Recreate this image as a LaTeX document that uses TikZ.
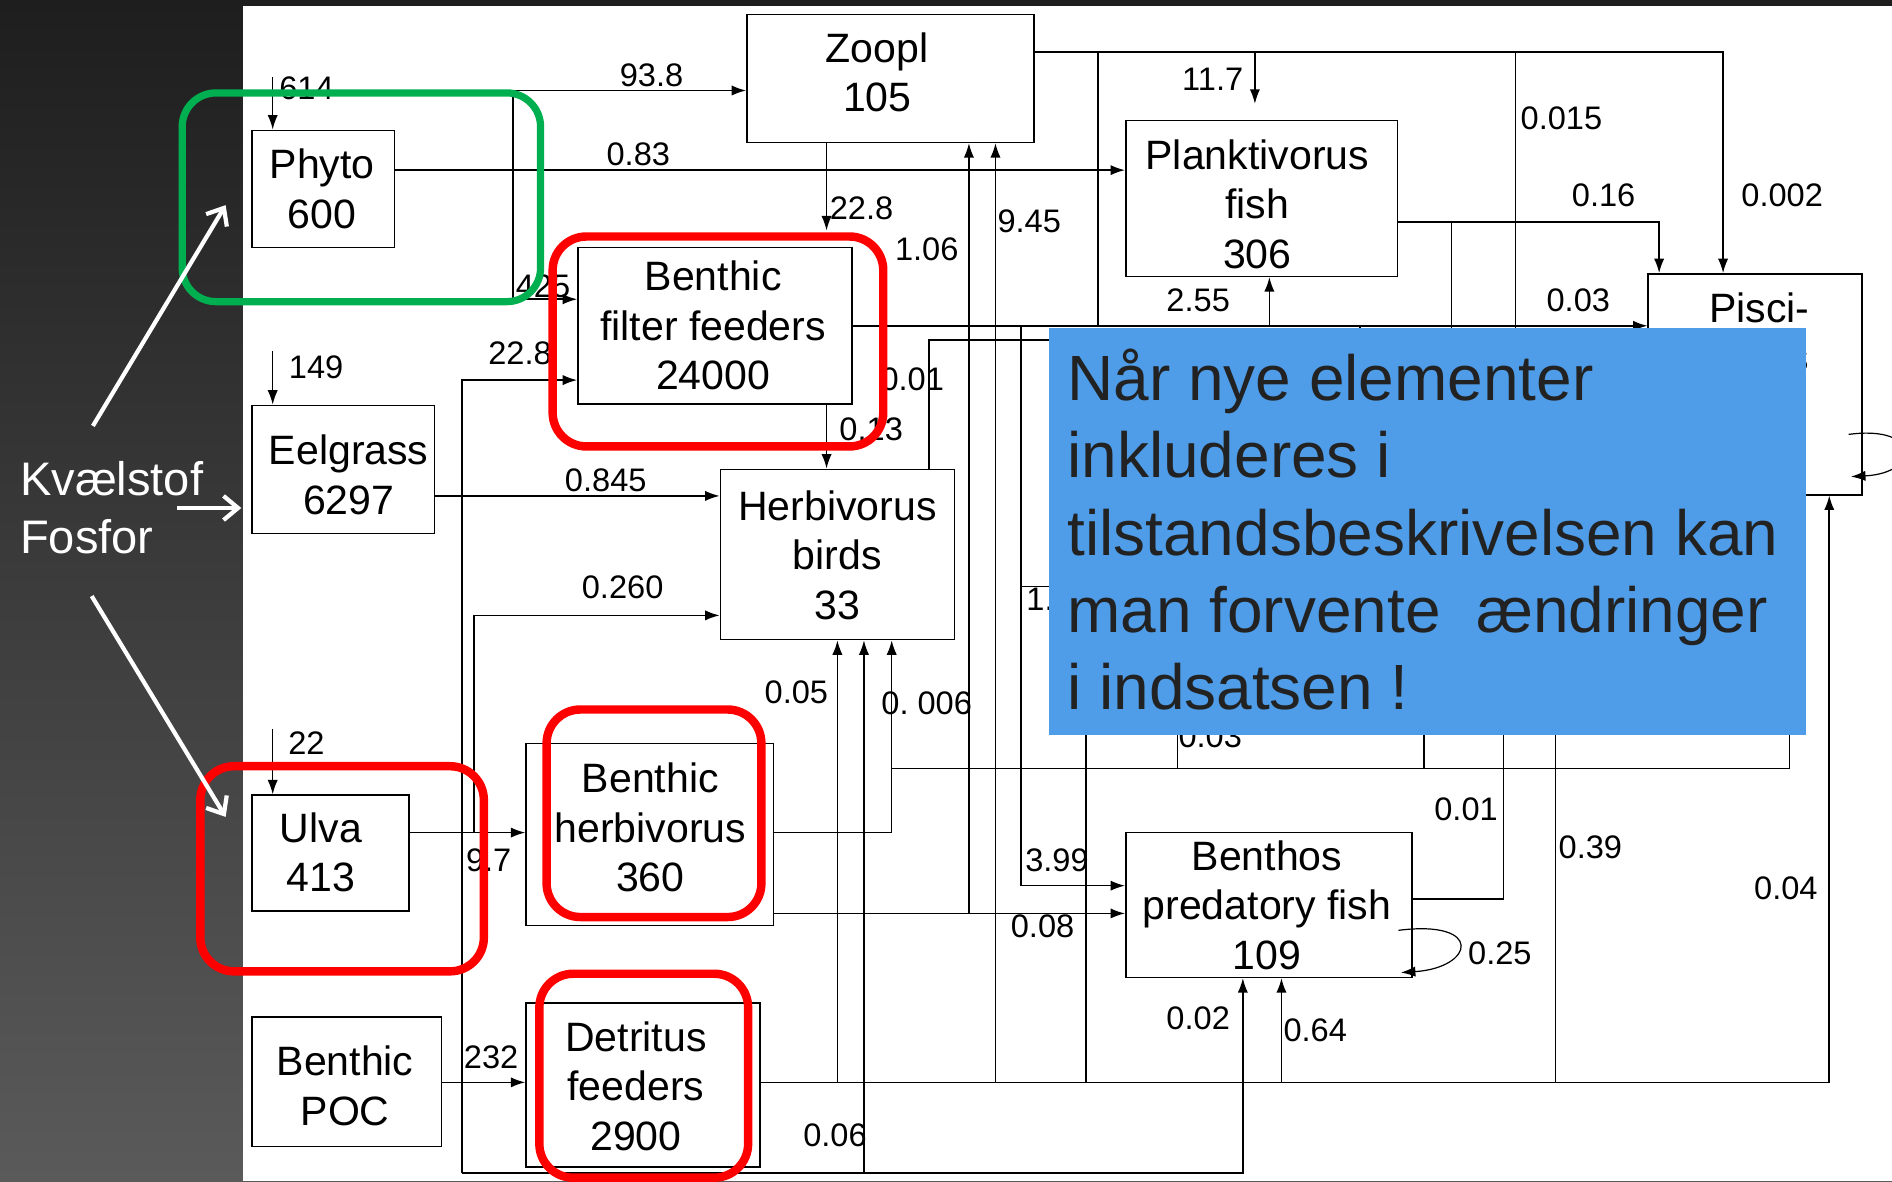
\documentclass[tikz,border=0pt]{standalone}
\usepackage{fontspec}
\setmainfont{Liberation Sans}
\usetikzlibrary{arrows.meta}
\definecolor{slideblue}{HTML}{4F9DE8}
\definecolor{textdark}{HTML}{222222}
\definecolor{frgreen}{HTML}{00B050}
\definecolor{bgtop}{HTML}{1E1E1E}
\definecolor{bgbot}{HTML}{5A5A5A}
\begin{document}
\begin{tikzpicture}[x=1pt,y=-1pt,line width=1.3pt,
  box/.style={draw, line width=1.3pt, fill=white, inner sep=0pt},
  boxtxt/.style={inner sep=0pt, align=center, font=\fontsize{34}{41}\selectfont},
  lbl/.style={inner sep=0pt, font=\fontsize{27}{30}\selectfont},
  arr/.style={-{Latex[length=12pt,width=8.5pt]}},
  redframe/.style={draw=red, line width=7pt, rounded corners=28pt},
  greenframe/.style={draw=frgreen, line width=6pt, rounded corners=28pt},
  bluetxt/.style={anchor=base west, inner sep=0pt, text=textdark, font=\fontsize{53}{64}\selectfont},
  whitetxt/.style={anchor=base west, inner sep=0pt, text=white, font=\fontsize{39}{48}\selectfont},
  warr/.style={draw=white, line width=3.5pt, -{Straight Barb[length=12pt,width=20pt]}}]
\useasboundingbox (0,0) rectangle (1568,979);
% background
\shade[top color=bgtop, bottom color=bgbot, draw=none] (0,0) rectangle (1568,979);
\fill[white] (201,5) rectangle (1568,979);

% boxes
\node[box, minimum width=118pt, minimum height=97pt] (phyto) at (268,156.5) {};
\node[box, minimum width=238pt, minimum height=106pt] (zoopl) at (738,65) {};
\node[box, minimum width=225pt, minimum height=129pt] (plank) at (1045.5,164.5) {};
\node[box, minimum width=177pt, minimum height=183pt] (pisci) at (1454.5,318.5) {};
\node[box, minimum width=227pt, minimum height=130pt] (ff) at (592.5,270) {};
\node[box, minimum width=151pt, minimum height=106pt] (eel) at (284.5,389) {};
\node[box, minimum width=194pt, minimum height=141pt] (birds) at (694,459.5) {};
\node[box, minimum width=130pt, minimum height=96pt] (ulva) at (274,707) {};
\node[box, minimum width=205pt, minimum height=151pt] (bherb) at (538.5,691.5) {};
\node[box, minimum width=237pt, minimum height=120pt] (bpf) at (1051.5,750) {};
\node[box, minimum width=157pt, minimum height=107pt] (poc) at (287.5,896.5) {};
\node[box, minimum width=194pt, minimum height=136pt] (det) at (533,899) {};

% box texts
\node[boxtxt] (phytot) at (267,156.5) {Phyto\\600};
\node[boxtxt] (zooplt) at (727,60) {Zoopl\\105};
\node[boxtxt] (plankt) at (1042,169) {Planktivorus\\fish\\306};
\node[boxtxt, anchor=base] (piscit1) at (1458,267) {Pisci-};
\node[boxtxt, anchor=base] (piscit2) at (1458,308) {vorus};
\node[boxtxt] (fft) at (591,270) {Benthic\\filter feeders\\24000};
\node[boxtxt] (eelt) at (289,393.5) {Eelgrass\\6297};
\node[boxtxt] (birdst) at (694,460) {Herbivorus\\birds\\33};
\node[boxtxt] (ulvat) at (266,706.5) {Ulva\\413};
\node[boxtxt] (bherbt) at (539,686) {Benthic\\herbivorus\\360};
\node[boxtxt] (bpft) at (1050,750) {Benthos\\predatory fish\\109};
\node[boxtxt] (poct) at (286,900) {Benthic\\POC};
\node[boxtxt] (dett) at (527,900) {Detritus\\feeders\\2900};

% inputs
\coordinate (i614) at (226,64);
\coordinate (i149) at (226,291);
\coordinate (i22) at (226,604);
\draw[arr] (i614) -- (i614 |- phyto.north);
\draw[arr] (i149) -- (i149 |- eel.north);
\draw[arr] (i22) -- (i22 |- ulva.north);

% Phyto outputs
\coordinate (jp) at (425,141);
\coordinate (jpt) at (425,75);
\coordinate (jpb) at (425,248);
\draw (phyto.east |- jp) -- (jp);
\draw[arr] (jp) -- (plank.west |- jp);
\draw[arr] (jp) -- (jpt) -- (zoopl.west |- jpt);
\draw[arr] (jp) -- (jpb) -- (ff.west |- jpb);

% Zoopl outputs
\coordinate (zf) at (685,191);
\draw[arr] (zoopl.south -| zf) -- (zf);
\coordinate (zr) at (1428,43);
\draw[arr] (zoopl.east |- zr) -- (zr) -- (pisci.north -| zr);
\coordinate (z117) at (1040,43);
\coordinate (z117e) at (1040,86);
\draw[arr] (z117) -- (z117e);
\coordinate (z910) at (910,43);
\coordinate (f910) at (910,270);
\draw (z910) -- (f910);
\coordinate (z1256) at (1256,43);
\coordinate (h1256) at (1256,420);
\draw (z1256) -- (h1256);

% Planktivorus outputs
\coordinate (pr) at (1375,184);
\draw[arr] (plank.east |- pr) -- (pr) -- (pisci.north -| pr);
\coordinate (p1203) at (1203,184);
\coordinate (h1203) at (1203,420);
\draw (p1203) -- (h1203);

% filter feeder outputs
\draw[arr] (ff.east) -- (pisci.west |- ff.east);
\coordinate (f1052) at (1052,270);
\draw[arr] (f1052) -- (plank.south -| f1052);
\coordinate (f1127) at (1127,270);
\coordinate (h1127) at (1127,420);
\draw (f1127) -- (h1127);
\coordinate (f846) at (846,270);
\coordinate (b846) at (846,734);
\draw[arr] (f846) -- (b846) -- (bpf.west |- b846);
\coordinate (m846) at (846,486);
\coordinate (h486) at (960,486);
\draw (m846) -- (h486);
\coordinate (fb) at (685,0);
\draw[arr] (ff.south -| fb) -- (birds.north -| fb);

% birds top output
\coordinate (bt) at (770,282);
\coordinate (hbt) at (960,282);
\draw (birds.north -| bt) -- (bt) -- (hbt);

% flows up into Zoopl
\coordinate (h803) at (803,757);
\draw[arr] (h803) -- (zoopl.south -| h803);
\coordinate (d825) at (825,897);
\draw[arr] (d825) -- (zoopl.south -| d825);

% Eelgrass
\coordinate (eb) at (480,411);
\draw[arr] (eel.east |- eb) -- (birds.west |- eb);

% Ulva
\coordinate (u393) at (393,690);
\coordinate (u393t) at (393,510);
\draw[arr] (ulva.east |- u393) -- (bherb.west |- u393);
\draw[arr] (u393) -- (u393t) -- (birds.west |- u393t);

% x=383 line
\coordinate (l383t) at (383,315);
\coordinate (l383b) at (383,972);
\coordinate (b1030) at (1030,972);
\coordinate (b716) at (716,972);
\draw[arr] (l383b) -- (l383t) -- (ff.west |- l383t);
\draw[arr] (l383b) -- (b1030) -- (bpf.south -| b1030);
\draw[arr] (b716) -- (birds.south -| b716);

% POC
\coordinate (pd) at (400,897);
\draw[arr] (poc.east |- pd) -- (det.west |- pd);

% benthic herbivorus outputs
\coordinate (h739) at (739,690);
\draw[arr] (bherb.east |- h739) -- (h739) -- (birds.south -| h739);
\coordinate (h739b) at (739,637);
\coordinate (h1483) at (1483,637);
\coordinate (hh1483) at (1483,560);
\draw (h739b) -- (h1483) -- (hh1483);
\coordinate (h976) at (976,637);
\coordinate (hh976) at (976,560);
\draw (h976) -- (hh976);
\coordinate (h1180) at (1180,637);
\coordinate (hh1180) at (1180,560);
\draw (h1180) -- (hh1180);
\draw[arr] (bherb.east |- h803) -- (bpf.west |- h803);

% detritus feeders outputs
\coordinate (d1516) at (1516,897);
\draw[arr] (det.east |- d1516) -- (d1516) -- (pisci.south -| d1516);
\coordinate (d694) at (694,897);
\draw[arr] (d694) -- (birds.south -| d694);
\coordinate (d900) at (900,897);
\coordinate (hd900) at (900,560);
\draw (d900) -- (hd900);
\coordinate (d1062) at (1062,897);
\draw[arr] (d1062) -- (bpf.south -| d1062);
\coordinate (d1289) at (1289,897);
\coordinate (hd1289) at (1289,560);
\draw (d1289) -- (hd1289);

% benthos predatory fish right output
\coordinate (r1246) at (1246,745);
\coordinate (hr1246) at (1246,560);
\draw (bpf.east |- r1246) -- (r1246) -- (hr1246);

% self loops
\coordinate (la) at (1159,771);
\coordinate (lb) at (1161,806);
\draw[arr, line width=1pt] (la) .. controls (1230,762) and (1222,802) .. (lb);
\coordinate (qa) at (1532,360);
\coordinate (qb) at (1534,395);
\draw[arr, line width=1pt] (qa) .. controls (1592,352) and (1592,392) .. (qb);

% labels
\node[lbl] (l614) at (254,73) {614};
\node[lbl] (l938) at (540,62) {93.8};
\node[lbl] (l083) at (529,128) {0.83};
\node[lbl] (l425) at (450,237) {425};
\node[lbl] (l228a) at (431,293) {22.8};
\node[lbl] (l149) at (262,304) {149};
\node[lbl] (l0845) at (502,398) {0.845};
\node[lbl] (l0260) at (516,487) {0.260};
\node[lbl] (l22) at (254,616) {22};
\node[lbl] (l97) at (405,713) {9.7};
\node[lbl] (l232) at (407,876) {232};
\node[lbl] (l228b) at (714,173) {22.8};
\node[lbl] (l106) at (768,207) {1.06};
\node[lbl] (l945) at (853,183) {9.45};
\node[lbl] (l001a) at (756,314) {0.01};
\node[lbl] (l013) at (722,356) {0.13};
\node[lbl] (l005) at (660,574) {0.05};
\node[lbl] (l0006) at (768,583) {0.\ 006};
\node[lbl] (l006) at (692,941) {0.06};
\node[lbl] (l117) at (1005,66) {11.7};
\node[lbl] (l0015) at (1294,98) {0.015};
\node[lbl] (l016) at (1329,162) {0.16};
\node[lbl] (l0002) at (1477,162) {0.002};
\node[lbl] (l255) at (993,249) {2.55};
\node[lbl] (l003) at (1308,249) {0.03};
\node[lbl, anchor=west] (l1x) at (850,497) {1.};
\node[lbl] (l00x) at (1003,610) {0.03};
\node[lbl] (l399) at (876,713) {3.99};
\node[lbl] (l008) at (864,768) {0.08};
\node[lbl] (l001b) at (1215,671) {0.01};
\node[lbl] (l039) at (1318,702) {0.39};
\node[lbl] (l004) at (1480,736) {0.04};
\node[lbl] (l025) at (1243,790) {0.25};
\node[lbl] (l002) at (993,844) {0.02};
\node[lbl] (l064) at (1090,854) {0.64};

% highlight frames
\draw[greenframe] (151,77) rectangle (448,250);
\draw[redframe] (458,196) rectangle (732,370);
\draw[redframe] (166,635) rectangle (401,805);
\draw[redframe] (453,588) rectangle (631,760);
\draw[redframe] (447,807) rectangle (620,976);

% blue callout
\fill[slideblue] (869,272) rectangle (1497,609);
\node[bluetxt] (t1) at (884,332) {Når nye elementer};
\node[bluetxt] (t2) at (884,396) {inkluderes i};
\node[bluetxt] (t3) at (884,460) {tilstandsbeskrivelsen kan};
\node[bluetxt] (t4) at (884,524) {man forvente\ \ ændringer};
\node[bluetxt] (t5) at (884,588) {i indsatsen !};

% left side
\node[whitetxt] (kv) at (16,411) {Kvælstof};
\node[whitetxt] (fo) at (16,459) {Fosfor};
\coordinate (wa1) at (77,353);
\coordinate (wa1e) at (187,170);
\coordinate (wa2) at (147,421);
\coordinate (wa2e) at (200,421);
\coordinate (wa3) at (76,494);
\coordinate (wa3e) at (187,677);
\draw[warr] (wa1) -- (wa1e);
\draw[warr] (wa2) -- (wa2e);
\draw[warr] (wa3) -- (wa3e);
\end{tikzpicture}
\end{document}
